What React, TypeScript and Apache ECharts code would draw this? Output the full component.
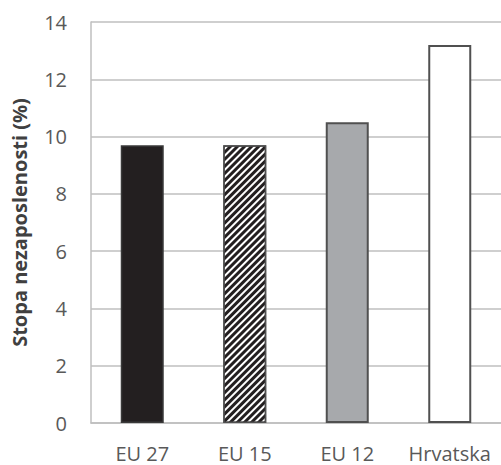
import React, { useEffect, useRef } from "react";
import * as echarts from "echarts";

const categories = ["EU 27", "EU 15", "EU 12", "Hrvatska"];
const values = [9.7, 9.7, 10.5, 13.2];
const yTicks = { min: 0, max: 14, interval: 2 };
const yTitle = "Stopa nezaposlenosti (%)";

export default function App() {
  const ref = useRef<HTMLDivElement>(null);
  useEffect(() => {
    document.body.style.margin = "0";
    const chart = echarts.init(ref.current!, null, { renderer: "svg" });
    const border = "#505050";
    const styles = [
      { color: "#231f20", borderColor: "#3a3a3a", borderWidth: 1.5 },
      {
        color: "#ffffff",
        borderColor: border,
        borderWidth: 1.5,
        decal: {
          symbol: "rect",
          symbolSize: 1,
          dashArrayX: [1, 0],
          dashArrayY: [2.2, 2],
          rotation: -Math.PI / 4,
          color: "#231f20",
        },
      },
      { color: "#a7a9ac", borderColor: border, borderWidth: 2 },
      { color: "#ffffff", borderColor: border, borderWidth: 2 },
    ];
    chart.setOption({
      animation: false,
      grid: { left: 91, top: 22, width: 412, bottom: 42 },
      xAxis: {
        type: "category",
        data: categories,
        axisLine: { show: true, lineStyle: { color: "#bfbfbf", width: 1.5 } },
        axisTick: { show: false },
        axisLabel: {
          interval: 0,
          margin: 20,
          fontSize: 20,
          fontFamily: "Open Sans",
          color: "#595959",
        },
      },
      yAxis: {
        type: "value",
        min: yTicks.min,
        max: yTicks.max,
        interval: yTicks.interval,
        name: yTitle,
        nameLocation: "middle",
        nameRotate: 90,
        nameGap: 62,
        nameTextStyle: {
          fontSize: 20,
          fontWeight: "bold",
          fontFamily: "Open Sans",
          color: "#404040",
        },
        axisLine: { show: true, lineStyle: { color: "#bfbfbf", width: 1.5 } },
        axisTick: { show: false },
        splitLine: { lineStyle: { color: "#bfbfbf", width: 1.5 } },
        axisLabel: {
          margin: 24,
          fontSize: 20,
          fontFamily: "Open Sans",
          color: "#595959",
        },
      },
      series: [
        {
          type: "bar",
          barWidth: 43,
          data: values.map((v, i) => ({ value: v, itemStyle: styles[i] })),
        },
      ],
    });
    return () => chart.dispose();
  }, []);
  return <div ref={ref} style={{ width: 501, height: 465 }} />;
}
